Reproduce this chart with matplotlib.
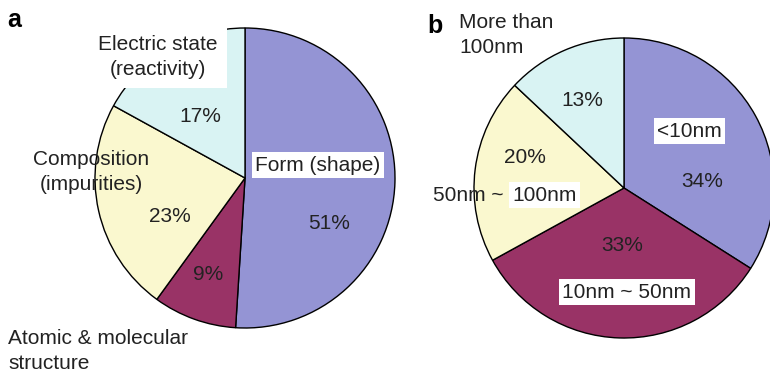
import matplotlib.pyplot as plt

plt.rcParams['font.family'] = ['Liberation Sans', 'DejaVu Sans']

# panel a: what is characterised
a_labels = ['Form (shape)', 'Atomic & molecular\nstructure', 'Composition\n(impurities)', 'Electric state\n(reactivity)']
a_values = [51, 9, 23, 17]
# panel b: particle size
b_labels = ['<10nm', '10nm ~ 50nm', '50nm ~ 100nm', 'More than\n100nm']
b_values = [34, 33, 20, 13]

colors = ['#9494d4', '#993366', '#faf8cf', '#d9f3f3']
W, H = 770, 374
fs = 15

fig = plt.figure(figsize=(W / 100, H / 100), dpi=100)
ax = fig.add_axes([0, 0, 1, 1])

wp = dict(edgecolor='black', linewidth=1.0)
ax.pie(a_values, colors=colors, startangle=90, counterclock=False,
       center=(245, H - 178), radius=150, wedgeprops=wp, frame=True)
ax.pie(b_values, colors=colors, startangle=90, counterclock=False,
       center=(624, H - 188), radius=150, wedgeprops=wp, frame=True)
ax.set_xlim(0, W)
ax.set_ylim(0, H)
ax.axis('off')


def txt(x, y, s, box=False, ha='center', **kw):
    bb = dict(facecolor='white', edgecolor='none', boxstyle='square,pad=0.15') if box else None
    ax.text(x, H - y, s, ha=ha, va='center', fontsize=fs, color='#222222', bbox=bb,
            linespacing=1.4, **kw)


# panel a text
ax.text(7, H - 27, 'a', fontsize=18, fontweight='bold', ha='left', va='baseline')
ax.text(158, H - 57, a_labels[3], ha='center', va='center', fontsize=fs, color='#222222',
        multialignment='center', linespacing=1.4,
        bbox=dict(facecolor='white', edgecolor='none', boxstyle='square,pad=0.45'))
txt(91, 172, a_labels[2], multialignment='center')
txt(8, 351, a_labels[1], ha='left')
txt(318, 165, a_labels[0], box=True)
txt(200, 116, f'{a_values[3]}%')
txt(170, 216, f'{a_values[2]}%')
txt(208, 275, f'{a_values[1]}%')
txt(329, 223, f'{a_values[0]}%')

# panel b text
ax.text(427, H - 33, 'b', fontsize=18, fontweight='bold', ha='left', va='baseline')
txt(459, 35, b_labels[3], ha='left')
txt(689, 131, b_labels[0], box=True)
txt(627, 292, b_labels[1], box=True)
txt(433, 195, '50nm ~ ', ha='left')
txt(512, 195, '100nm', box=True, ha='left')
txt(582, 100, f'{b_values[3]}%')
txt(702, 181, f'{b_values[0]}%')
txt(525, 157, f'{b_values[2]}%')
txt(622, 245, f'{b_values[1]}%')

fig.savefig('out.png', dpi=100)
